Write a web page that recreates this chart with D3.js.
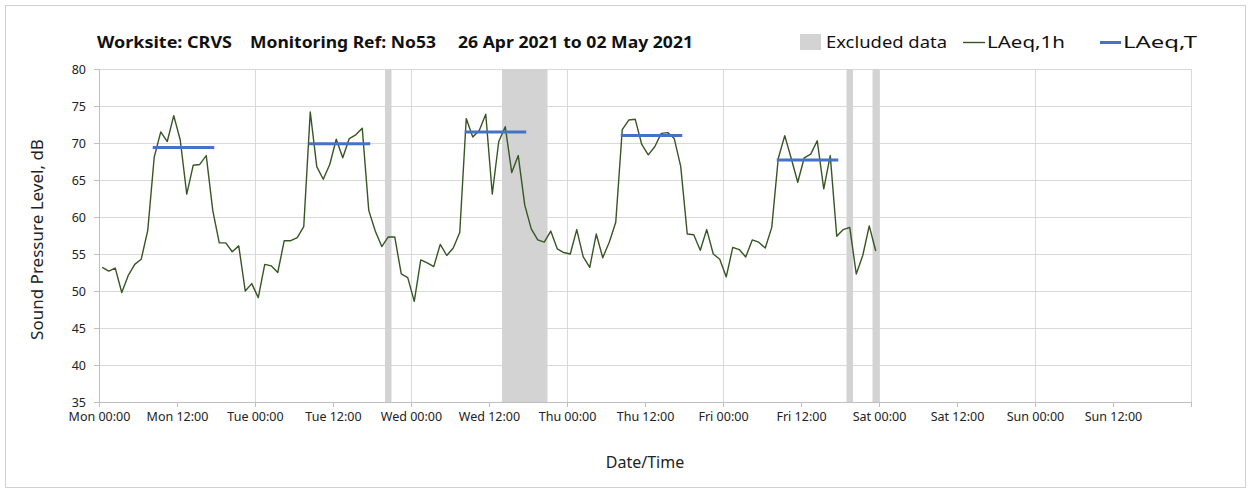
<!DOCTYPE html>
<html>
  <head>
    <meta charset="utf-8" />
    <script src="https://d3js.org/d3.v7.min.js"></script>
    <title>Worksite CRVS noise monitoring</title>
    <style>
      html, body {
        margin: 0px;
        overflow: hidden;
        background: #fff;
      }
      svg {
        display: block;
        font-family: 'Noto Sans', sans-serif;
      }
      .domain {
        stroke: #bfbfbf;
      }
      .tick line {
        stroke: #bfbfbf;
      }
    </style>
  </head>
  <body>
    <script>
      // hourly LAeq,1h readings, one per hour starting Mon 26 Apr 2021 00:00
      const monday = [53.2, 52.7, 53.1, 49.8, 52.1, 53.6, 54.3, 58.2, 68.1, 71.5, 70.2, 73.7,
        70.4, 63.1, 67.0, 67.1, 68.3, 60.9, 56.5, 56.5, 55.3, 56.1, 50.0, 51.0];
      const tuesday = [49.1, 53.6, 53.4, 52.5, 56.8, 56.8, 57.2, 58.7, 74.2, 66.8, 65.1, 67.1,
        70.5, 68.0, 70.6, 71.1, 72.0, 60.9, 58.1, 56.0, 57.3, 57.3, 52.3, 51.8];
      const wednesday = [48.6, 54.2, 53.8, 53.3, 56.3, 54.8, 55.8, 57.9, 73.3, 70.8, 71.7, 73.9,
        63.1, 70.2, 72.2, 66.0, 68.3, 61.6, 58.4, 56.9, 56.6, 58.1, 55.7, 55.2];
      const thursday = [55.0, 58.3, 54.6, 53.2, 57.7, 54.5, 56.6, 59.3, 71.8, 73.1, 73.2, 69.8,
        68.4, 69.5, 71.3, 71.4, 70.6, 66.8, 57.7, 57.6, 55.5, 58.3, 55.0, 54.3];
      const friday = [51.9, 55.9, 55.6, 54.6, 56.9, 56.6, 55.8, 58.6, 67.9, 71.0, 67.9, 64.7,
        68.0, 68.5, 70.3, 63.8, 68.3, 57.4, 58.3, 58.6, 52.3, 54.8, 58.8, 55.4];
      const hourlyValues = [...monday, ...tuesday, ...wednesday, ...thursday, ...friday];

      // LAeq,T over the 08:00-18:00 working period each day
      const periodStart = ['2021-04-26T08:30', '2021-04-27T08:30', '2021-04-28T08:30',
        '2021-04-29T08:30', '2021-04-30T08:30'];
      const periodEnd = ['2021-04-26T17:30', '2021-04-27T17:30', '2021-04-28T17:30',
        '2021-04-29T17:30', '2021-04-30T17:30'];
      const periodValues = [69.4, 69.9, 71.5, 71.0, 67.7];

      // excluded data windows
      const excludedStart = ['2021-04-27T20:00', '2021-04-28T14:00', '2021-04-30T19:00', '2021-04-30T23:00'];
      const excludedEnd = ['2021-04-27T21:00', '2021-04-28T21:00', '2021-04-30T20:00', '2021-05-01T00:00'];

      const yTicks = [35, 40, 45, 50, 55, 60, 65, 70, 75, 80];

      const width = 1251;
      const height = 493;
      const margin = { left: 99, right: 60, top: 69, bottom: 91 };
      const innerWidth = width - margin.left - margin.right;
      const innerHeight = height - margin.top - margin.bottom;

      const start = new Date('2021-04-26T00:00');
      const end = new Date('2021-05-03T00:00');
      const hour = 3600 * 1000;

      const data = hourlyValues.map((v, i) => ({
        date: new Date(+start + (i + 0.5) * hour),
        value: v,
      }));
      const periods = periodValues.map((v, i) => ({
        from: new Date(periodStart[i]),
        to: new Date(periodEnd[i]),
        value: v,
      }));
      const excluded = excludedStart.map((s, i) => ({
        from: new Date(s),
        to: new Date(excludedEnd[i]),
      }));

      const svg = d3.select('body').append('svg')
        .attr('width', width)
        .attr('height', height);

      svg.append('rect')
        .attr('x', 5.5).attr('y', 5.5)
        .attr('width', width - 11).attr('height', height - 11)
        .attr('fill', '#fff')
        .attr('stroke', '#d0d0d0');

      const g = svg.append('g')
        .attr('transform', `translate(${margin.left},${margin.top})`);

      const xScale = d3.scaleTime().domain([start, end]).range([0, innerWidth]);
      const yScale = d3.scaleLinear().domain([35, 80]).range([innerHeight, 0]);

      // grid
      g.append('g').selectAll('line').data(yTicks.slice(1)).join('line')
        .attr('x1', 0).attr('x2', innerWidth)
        .attr('y1', (d) => Math.round(yScale(d)) + 0.5)
        .attr('y2', (d) => Math.round(yScale(d)) + 0.5)
        .attr('stroke', '#d9d9d9');
      const days = d3.timeDay.range(d3.timeDay.offset(start, 1), d3.timeDay.offset(end, 1));
      g.append('g').selectAll('line').data(days).join('line')
        .attr('x1', (d) => Math.round(xScale(d)) + 0.5)
        .attr('x2', (d) => Math.round(xScale(d)) + 0.5)
        .attr('y1', 0).attr('y2', innerHeight)
        .attr('stroke', '#d9d9d9');

      // excluded data
      g.append('g').selectAll('rect').data(excluded).join('rect')
        .attr('x', (d) => xScale(d.from))
        .attr('width', (d) => xScale(d.to) - xScale(d.from))
        .attr('y', 0)
        .attr('height', innerHeight)
        .attr('fill', '#d3d3d3');

      // axes
      const xTicks = d3.timeHour.every(12).range(start, d3.timeHour.offset(end, 1));
      const fmt = d3.timeFormat('%a %H:%M');
      const xAxis = d3.axisBottom(xScale)
        .tickValues(xTicks)
        .tickSizeOuter(0)
        .tickSize(5)
        .tickPadding(5)
        .tickFormat((d) => (+d === +end ? '' : fmt(d)));
      g.append('g')
        .attr('transform', `translate(0,${innerHeight})`)
        .call(xAxis)
        .attr('font-size', 12.5)
        .attr('font-family', 'Noto Sans, sans-serif')
        .selectAll('text').attr('fill', '#222');

      const yAxis = d3.axisLeft(yScale)
        .tickValues(yTicks)
        .tickSizeOuter(0)
        .tickSize(5)
        .tickPadding(8);
      g.append('g').call(yAxis)
        .attr('font-size', 12.5)
        .attr('font-family', 'Noto Sans, sans-serif')
        .selectAll('text').attr('fill', '#222');

      // series
      const line = d3.line()
        .x((d) => xScale(d.date))
        .y((d) => yScale(d.value));
      g.append('path')
        .datum(data)
        .attr('fill', 'none')
        .attr('stroke', '#375623')
        .attr('stroke-width', 1.4)
        .attr('stroke-linejoin', 'round')
        .attr('d', line);

      g.append('g').selectAll('line').data(periods).join('line')
        .attr('x1', (d) => xScale(d.from))
        .attr('x2', (d) => xScale(d.to))
        .attr('y1', (d) => yScale(d.value))
        .attr('y2', (d) => yScale(d.value))
        .attr('stroke', '#4472c4')
        .attr('stroke-width', 3)
        .attr('stroke-linecap', 'square');

      // axis labels
      svg.append('text')
        .attr('x', margin.left + innerWidth / 2)
        .attr('y', 468)
        .attr('text-anchor', 'middle')
        .attr('font-size', 16)
        .attr('fill', '#222')
        .text('Date/Time');
      svg.append('text')
        .attr('transform', `translate(43,${margin.top + innerHeight / 2 + 4}) rotate(-90)`)
        .attr('text-anchor', 'middle')
        .attr('font-size', 17)
        .attr('fill', '#222')
        .text('Sound Pressure Level, dB');

      // title
      const title = svg.append('g')
        .attr('font-size', 16.5)
        .attr('font-weight', 'bold')
        .attr('fill', '#111');
      title.append('text').attr('x', 97).attr('y', 48)
        .attr('textLength', 135).attr('lengthAdjust', 'spacingAndGlyphs')
        .text('Worksite: CRVS');
      title.append('text').attr('x', 250).attr('y', 48)
        .attr('textLength', 186).attr('lengthAdjust', 'spacingAndGlyphs')
        .text('Monitoring Ref: No53');
      title.append('text').attr('x', 458).attr('y', 48)
        .attr('textLength', 235).attr('lengthAdjust', 'spacingAndGlyphs')
        .text('26 Apr 2021 to 02 May 2021');

      // legend
      const legend = svg.append('g').attr('font-size', 17).attr('fill', '#111');
      legend.append('rect')
        .attr('x', 800).attr('y', 34).attr('width', 21).attr('height', 16)
        .attr('fill', '#d3d3d3');
      legend.append('text').attr('x', 826).attr('y', 48)
        .attr('textLength', 121).attr('lengthAdjust', 'spacingAndGlyphs')
        .text('Excluded data');
      legend.append('line')
        .attr('x1', 963).attr('x2', 985).attr('y1', 42.5).attr('y2', 42.5)
        .attr('stroke', '#375623').attr('stroke-width', 1.4);
      legend.append('text').attr('x', 987).attr('y', 48)
        .attr('textLength', 78).attr('lengthAdjust', 'spacingAndGlyphs')
        .text('LAeq,1h');
      legend.append('line')
        .attr('x1', 1100).attr('x2', 1121).attr('y1', 42.5).attr('y2', 42.5)
        .attr('stroke', '#4472c4').attr('stroke-width', 3);
      legend.append('text').attr('x', 1123).attr('y', 48)
        .attr('textLength', 74).attr('lengthAdjust', 'spacingAndGlyphs')
        .text('LAeq,T');
    </script>
  </body>
</html>
